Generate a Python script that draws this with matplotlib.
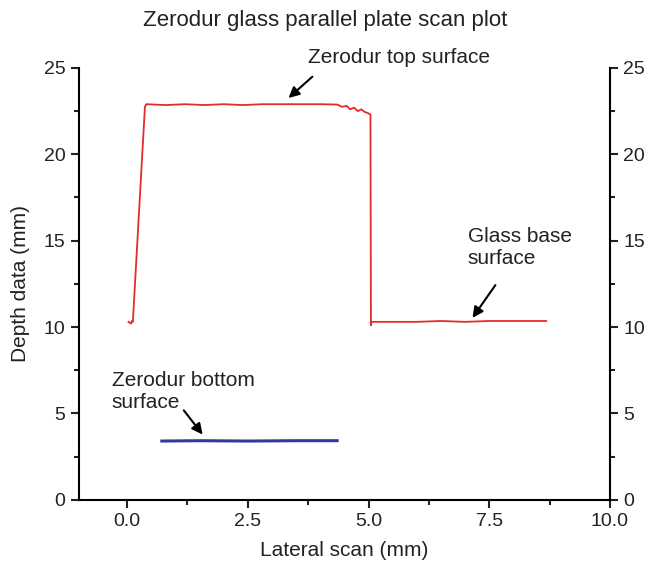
import matplotlib.pyplot as plt
from matplotlib.ticker import MultipleLocator

plt.rcParams['font.family'] = ['Liberation Sans', 'DejaVu Sans']
plt.rcParams['text.color'] = '#222222'
plt.rcParams['axes.labelcolor'] = '#222222'

# red trace: zerodur top surface + glass base surface
red_x = [0.03, 0.08, 0.10, 0.12, 0.37, 0.40, 0.8, 1.2, 1.6, 2.0, 2.4, 2.8, 3.2, 3.6,
         4.0, 4.35, 4.45, 4.55, 4.62, 4.70, 4.78, 4.85, 4.92, 4.98, 5.04, 5.05,
         5.06, 5.08, 5.5, 6.0, 6.5, 7.0, 7.5, 8.0, 8.68]
red_y = [10.3, 10.2, 10.35, 10.3, 22.75, 22.9, 22.85, 22.9, 22.85, 22.9, 22.85, 22.9,
         22.9, 22.9, 22.9, 22.88, 22.75, 22.8, 22.6, 22.7, 22.5, 22.6, 22.45, 22.4,
         22.3, 10.1, 10.3, 10.3, 10.3, 10.3, 10.35, 10.3, 10.35, 10.35, 10.35]

# blue trace: zerodur bottom surface
blue_x = [0.72, 1.5, 2.5, 3.5, 4.35]
blue_y = [3.4, 3.42, 3.4, 3.42, 3.42]

fig = plt.figure(figsize=(6.51, 5.66), dpi=100)
ax = fig.add_axes([0.121, 0.117, 0.816, 0.763])

ax.plot(red_x, red_y, color='#e52a2a', lw=1.3)
ax.plot(blue_x, blue_y, color='#2e3b9c', lw=2.2)

ax.set_xlim(-1, 10)
ax.set_ylim(0, 25)
ax.xaxis.set_major_locator(MultipleLocator(2.5))
ax.xaxis.set_minor_locator(MultipleLocator(1.25))
ax.yaxis.set_major_locator(MultipleLocator(5))
ax.yaxis.set_minor_locator(MultipleLocator(2.5))
ax.xaxis.set_major_formatter(plt.FormatStrFormatter('%.1f'))

ax.spines['top'].set_visible(False)
for s in ['left', 'right', 'bottom']:
    ax.spines[s].set_linewidth(1.5)
ax.tick_params(which='both', direction='out', width=1.5, labelsize=14,
               right=True, labelright=True, colors='#222222')
ax.tick_params(which='major', length=6)
ax.tick_params(which='minor', length=3.5)

ax.set_xlabel('Lateral scan (mm)', fontsize=15, labelpad=8)
ax.set_ylabel('Depth data (mm)', fontsize=15, labelpad=10)
fig.suptitle('Zerodur glass parallel plate scan plot', fontsize=16, y=0.982)

arrow = dict(arrowstyle='-|>', color='black', lw=1.5, mutation_scale=16)
ax.text(5.64, 25.6, 'Zerodur top surface', fontsize=15, ha='center', va='center',
        clip_on=False)
ax.annotate('', xy=(3.3, 23.15), xytext=(3.88, 24.6), arrowprops=arrow,
            annotation_clip=False)
ax.text(7.05, 14.6, 'Glass base\nsurface', fontsize=15, ha='left', va='center',
        linespacing=1.2)
ax.annotate('', xy=(7.12, 10.4), xytext=(7.66, 12.56), arrowprops=arrow)
ax.text(-0.32, 6.25, 'Zerodur bottom\nsurface', fontsize=15, ha='left', va='center',
        linespacing=1.2)
ax.annotate('', xy=(1.6, 3.65), xytext=(1.14, 5.3), arrowprops=arrow)

fig.savefig('out.png', dpi=100)
